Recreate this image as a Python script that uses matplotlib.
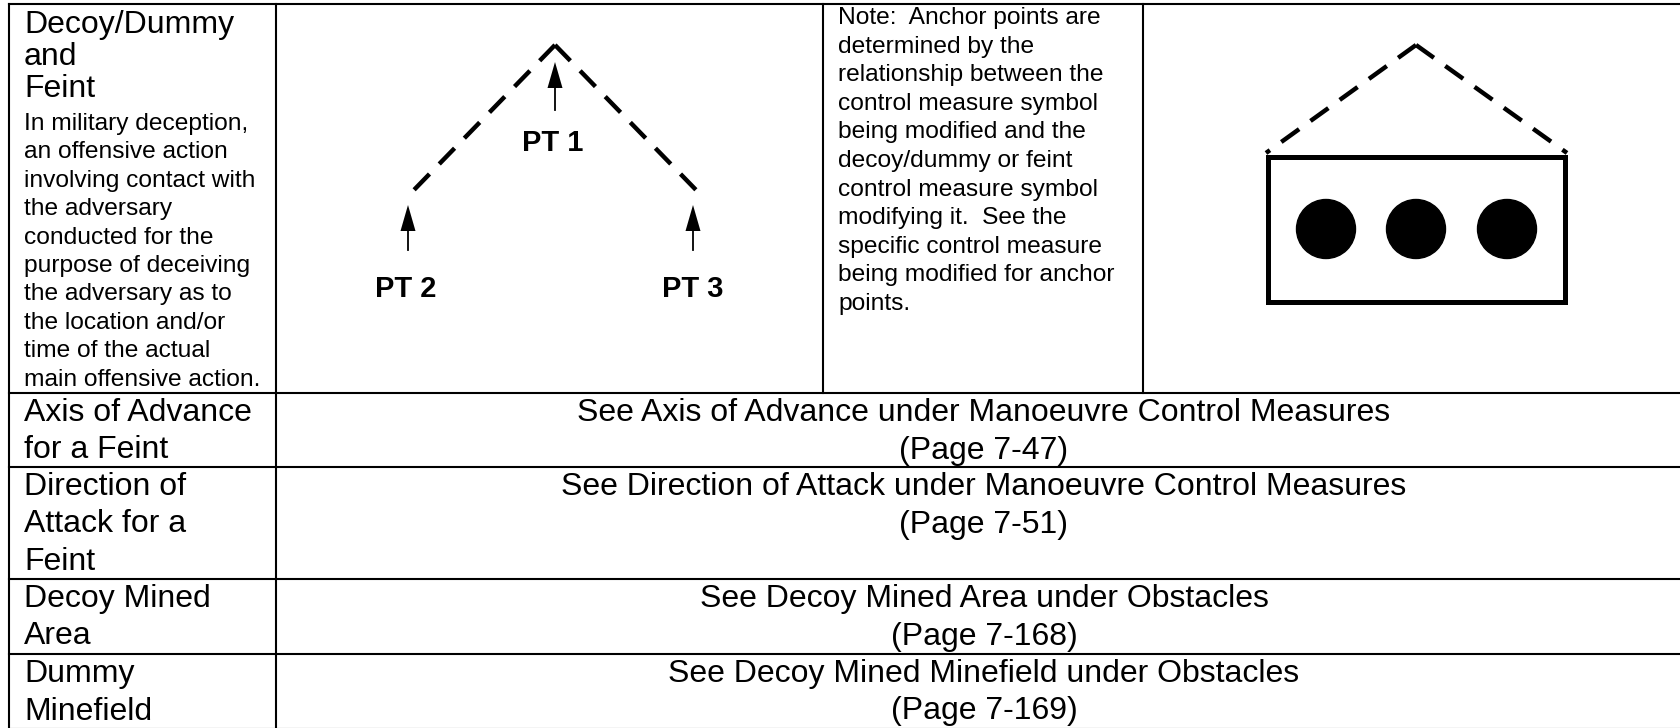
import matplotlib.pyplot as plt
from matplotlib.patches import Polygon, Rectangle, Circle
import numpy as np

plt.rcParams['font.family'] = ['Liberation Sans', 'DejaVu Sans']
plt.rcParams['lines.scale_dashes'] = False

# table content
title_lines = ['Decoy/Dummy', 'and', 'Feint']
desc_lines = ['In military deception,', 'an offensive action', 'involving contact with',
              'the adversary', 'conducted for the', 'purpose of deceiving',
              'the adversary as to', 'the location and/or', 'time of the actual',
              'main offensive action.']
note_lines = ['Note:  Anchor points are', 'determined by the', 'relationship between the',
              'control measure symbol', 'being modified and the', 'decoy/dummy or feint',
              'control measure symbol', 'modifying it.  See the', 'specific control measure',
              'being modified for anchor', 'points.']
point_labels = ['PT 1', 'PT 2', 'PT 3']
row_names = [['Axis of Advance', 'for a Feint'],
             ['Direction of', 'Attack for a', 'Feint'],
             ['Decoy Mined', 'Area'],
             ['Dummy', 'Minefield']]
row_refs = [['See Axis of Advance under Manoeuvre Control Measures', '(Page 7-47)'],
            ['See Direction of Attack under Manoeuvre Control Measures', '(Page 7-51)'],
            ['See Decoy Mined Area under Obstacles', '(Page 7-168)'],
            ['See Decoy Mined Minefield under Obstacles', '(Page 7-169)']]

# layout (pixels)
W, H = 1681, 728
col_x = [9, 276, 823, 1143, 1692]
row_y = [4, 393, 467, 579, 654, 729]
px = 0.72  # px -> pt at 100 dpi
big_fs = 32 * px
small_fs = 24.5 * px
pt_fs = 29 * px
lw_grid = 1.5
dash = (22 * px, 14 * px)

fig = plt.figure(figsize=(W / 100, H / 100), dpi=100)
ax = fig.add_axes([0, 0, 1, 1])
ax.set_xlim(0, W)
ax.set_ylim(H, 0)
ax.axis('off')

# grid
for y in row_y:
    ax.plot([col_x[0], col_x[-1]], [y, y], color='k', lw=lw_grid, solid_capstyle='projecting')
ax.plot([col_x[0], col_x[0]], [row_y[0], row_y[-1]], color='k', lw=lw_grid)
ax.plot([col_x[1], col_x[1]], [row_y[0], row_y[-1]], color='k', lw=lw_grid)
for x in col_x[2:4]:
    ax.plot([x, x], [row_y[0], row_y[1]], color='k', lw=lw_grid)

# first column, top row
pad = 15
for i, s in enumerate(title_lines):
    ax.text(col_x[0] + pad, 25 + i * 32, s, fontsize=big_fs, va='center', ha='left')
for i, s in enumerate(desc_lines):
    ax.text(col_x[0] + pad, 124 + i * 28.4, s, fontsize=small_fs, va='center', ha='left')

# note column
for i, s in enumerate(note_lines):
    ax.text(col_x[2] + pad, 18 + i * 28.6, s, fontsize=small_fs, va='center', ha='left')


def dashed_leg(p0, p1, n_dash):
    # dashed leg that finishes on a full dash
    p0, p1 = np.array(p0, float), np.array(p1, float)
    d = (p1 - p0) / np.linalg.norm(p1 - p0)
    length = n_dash * 22 + (n_dash - 1) * 14
    end = p0 + d * length
    ax.plot([p0[0], end[0]], [p0[1], end[1]], color='k', lw=3.2, dashes=dash,
            dash_capstyle='butt')


# anchor point sketch
apex = (555, 45)
dashed_leg(apex, (411, 193), 6)
dashed_leg(apex, (699, 193), 6)


def arrow_up(x, tip, tail, head_len=26, half_w=7.5):
    ax.plot([x, x], [tip + head_len - 2, tail], color='k', lw=1.3)
    ax.add_patch(Polygon([(x, tip), (x - half_w, tip + head_len), (x + half_w, tip + head_len)],
                         closed=True, color='k', lw=0))


arrow_xy = [(555, 62, 110), (408, 205, 250), (693, 205, 250)]
label_xy = [(553, 143), (406, 289), (693, 289)]
for (x, tip, tail), (lx, ly), lab in zip(arrow_xy, label_xy, point_labels):
    arrow_up(x, tip, tail)
    ax.text(lx, ly, lab, fontsize=pt_fs, fontweight='bold', ha='center', va='center')

# example symbol
apex2 = (1416, 45)
rect = (1268, 157, 1565, 302)
for ex in (rect[0] - 2, rect[2] + 2):
    ax.plot([apex2[0], ex], [apex2[1], rect[1] - 4], color='k', lw=3.2, dashes=dash,
            dash_capstyle='butt')
ax.add_patch(Rectangle((rect[0], rect[1]), rect[2] - rect[0], rect[3] - rect[1],
                       fill=False, edgecolor='k', lw=3.6))
for cx in [1326, 1416, 1507]:
    ax.add_patch(Circle((cx, 229), 29.5, color='k'))

# lower rows
for r, (names, refs) in enumerate(zip(row_names, row_refs)):
    top = row_y[r + 1]
    for i, s in enumerate(names):
        ax.text(col_x[0] + pad, top + 20 + i * 37.5, s, fontsize=big_fs, va='center', ha='left')
    cx = (col_x[1] + col_x[-1]) / 2
    for i, s in enumerate(refs):
        ax.text(cx, top + 20 + i * 37.5, s, fontsize=big_fs, va='center', ha='center')

fig.savefig('out.png', dpi=100, facecolor='white')
